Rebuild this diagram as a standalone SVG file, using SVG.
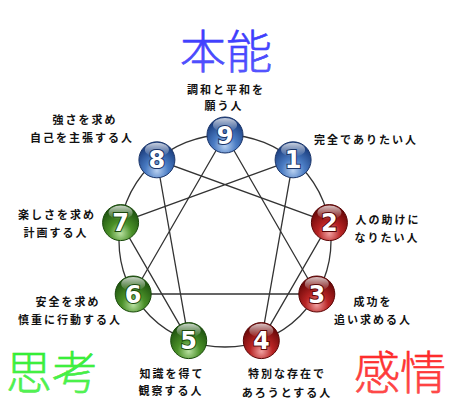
<svg xmlns="http://www.w3.org/2000/svg" width="450" height="409" viewBox="0 0 450 409">
<style>
.lbl{font-family:"Noto Sans CJK JP","Noto Sans CJK SC",sans-serif;font-size:11px;font-weight:bold;fill:#111;letter-spacing:2px;text-anchor:middle}
.ttl{font-family:"Noto Sans CJK JP","Noto Sans CJK SC",sans-serif;font-size:46px;font-weight:300;text-anchor:middle;stroke-width:0.5px;paint-order:stroke}
.num{font-family:"DejaVu Sans",sans-serif;font-size:24px;font-weight:bold;fill:#fff;stroke-width:2px;paint-order:stroke;text-anchor:middle}
.con{stroke:#333;stroke-width:1.3;fill:none}
</style>
<defs>
<radialGradient id="gb" cx="50%" cy="80%" r="70%"><stop offset="0" stop-color="#b8d0f0"/><stop offset="0.45" stop-color="#4a7cc4"/><stop offset="1" stop-color="#1c3f80"/></radialGradient>
<radialGradient id="gr" cx="50%" cy="80%" r="70%"><stop offset="0" stop-color="#f0a0a0"/><stop offset="0.45" stop-color="#b82424"/><stop offset="1" stop-color="#6a0808"/></radialGradient>
<radialGradient id="gg" cx="50%" cy="80%" r="70%"><stop offset="0" stop-color="#b8e0a0"/><stop offset="0.45" stop-color="#4a9028"/><stop offset="1" stop-color="#1f5410"/></radialGradient>
<linearGradient id="hl" x1="0" y1="0" x2="0" y2="1"><stop offset="0" stop-color="#fff" stop-opacity="0.75"/><stop offset="1" stop-color="#fff" stop-opacity="0"/></linearGradient>
<linearGradient id="tb" x1="0" y1="0" x2="0" y2="1"><stop offset="0" stop-color="#3030ff"/><stop offset="1" stop-color="#5a5aff"/></linearGradient>
<linearGradient id="tg" x1="0" y1="0" x2="0" y2="1"><stop offset="0" stop-color="#28ec28"/><stop offset="1" stop-color="#5af45a"/></linearGradient>
<linearGradient id="tr" x1="0" y1="0" x2="0" y2="1"><stop offset="0" stop-color="#ff1c1c"/><stop offset="1" stop-color="#ff5050"/></linearGradient>
</defs>
<rect width="450" height="409" fill="#fff"/>
<g id="titles">
<text class="ttl" x="226" y="68" fill="url(#tb)" stroke="#2020f0">本能</text>
<text class="ttl" x="52" y="389" fill="url(#tg)" stroke="#18d818">思考</text>
<text class="ttl" x="400" y="389" fill="url(#tr)" stroke="#f01010">感情</text>
</g>
<g id="connectors">
<circle class="con" cx="225" cy="241" r="106"/>
<polyline class="con" points="225,135 316.8,294 133.2,294 225,135"/>
<polyline class="con" points="293.1,159.8 261.3,340.6 329.4,222.6 156.9,159.8 188.7,340.6 120.6,222.6 293.1,159.8"/>
</g>
<g id="node9"><circle cx="225" cy="135" r="18" fill="url(#gb)" stroke="#1a3468" stroke-width="1"/><ellipse cx="225" cy="125" rx="12" ry="7" fill="url(#hl)"/><text class="num" x="225" y="143.5" stroke="#1a3468">9</text></g>
<g id="node1"><circle cx="293.1" cy="159.8" r="18" fill="url(#gb)" stroke="#1a3468" stroke-width="1"/><ellipse cx="293.1" cy="149.8" rx="12" ry="7" fill="url(#hl)"/><text class="num" x="293.1" y="168.3" stroke="#1a3468">1</text></g>
<g id="node8"><circle cx="156.9" cy="159.8" r="18" fill="url(#gb)" stroke="#1a3468" stroke-width="1"/><ellipse cx="156.9" cy="149.8" rx="12" ry="7" fill="url(#hl)"/><text class="num" x="156.9" y="168.3" stroke="#1a3468">8</text></g>
<g id="node2"><circle cx="329.4" cy="222.6" r="18" fill="url(#gr)" stroke="#5a0606" stroke-width="1"/><ellipse cx="329.4" cy="212.6" rx="12" ry="7" fill="url(#hl)"/><text class="num" x="329.4" y="231.1" stroke="#5a0606">2</text></g>
<g id="node3"><circle cx="316.8" cy="294" r="18" fill="url(#gr)" stroke="#5a0606" stroke-width="1"/><ellipse cx="316.8" cy="284" rx="12" ry="7" fill="url(#hl)"/><text class="num" x="316.8" y="302.5" stroke="#5a0606">3</text></g>
<g id="node4"><circle cx="261.3" cy="340.6" r="18" fill="url(#gr)" stroke="#5a0606" stroke-width="1"/><ellipse cx="261.3" cy="330.6" rx="12" ry="7" fill="url(#hl)"/><text class="num" x="261.3" y="349.1" stroke="#5a0606">4</text></g>
<g id="node5"><circle cx="188.7" cy="340.6" r="18" fill="url(#gg)" stroke="#1a4a0c" stroke-width="1"/><ellipse cx="188.7" cy="330.6" rx="12" ry="7" fill="url(#hl)"/><text class="num" x="188.7" y="349.1" stroke="#1a4a0c">5</text></g>
<g id="node6"><circle cx="133.2" cy="294" r="18" fill="url(#gg)" stroke="#1a4a0c" stroke-width="1"/><ellipse cx="133.2" cy="284" rx="12" ry="7" fill="url(#hl)"/><text class="num" x="133.2" y="302.5" stroke="#1a4a0c">6</text></g>
<g id="node7"><circle cx="120.6" cy="222.6" r="18" fill="url(#gg)" stroke="#1a4a0c" stroke-width="1"/><ellipse cx="120.6" cy="212.6" rx="12" ry="7" fill="url(#hl)"/><text class="num" x="120.6" y="231.1" stroke="#1a4a0c">7</text></g>
<g id="labels">
<text class="lbl" x="226" y="94">調和と平和を</text>
<text class="lbl" x="224" y="110">願う人</text>
<text class="lbl" x="85" y="124">強さを求め</text>
<text class="lbl" x="82" y="142">自己を主張する人</text>
<text class="lbl" x="57" y="219">楽しさを求め</text>
<text class="lbl" x="56" y="237">計画する人</text>
<text class="lbl" x="366" y="144">完全でありたい人</text>
<text class="lbl" x="388" y="224">人の助けに</text>
<text class="lbl" x="387" y="242">なりたい人</text>
<text class="lbl" x="68" y="306">安全を求め</text>
<text class="lbl" x="70" y="324">慎重に行動する人</text>
<text class="lbl" x="172" y="378">知識を得て</text>
<text class="lbl" x="171" y="395">観察する人</text>
<text class="lbl" x="373" y="306">成功を</text>
<text class="lbl" x="373" y="324">追い求める人</text>
<text class="lbl" x="287" y="378">特別な存在で</text>
<text class="lbl" x="287" y="397">あろうとする人</text>
</g>
</svg>
